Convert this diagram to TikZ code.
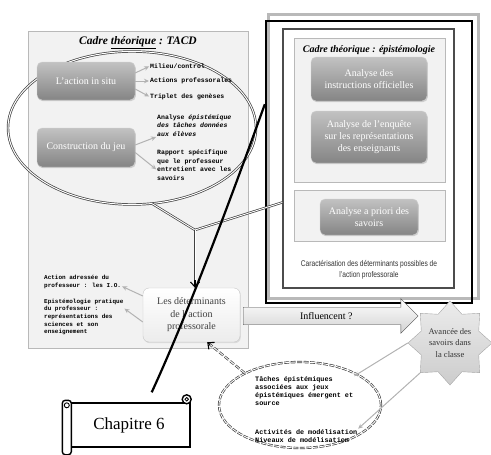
\documentclass[tikz,border=0pt]{standalone}
\usepackage{fontspec}
\setmainfont{Liberation Serif}
\newfontfamily\comicfont{Liberation Mono}
\newfontfamily\narrowfont[FakeStretch=0.8]{Liberation Sans}
\usetikzlibrary{arrows.meta,positioning,shapes.geometric,shapes.arrows,shadows}

\begin{document}
\begin{tikzpicture}[x=1pt, y=-1pt,
      panel/.style={draw=gray!55, fill=gray!10},
      gbox/.style={rectangle, rounded corners=5pt, draw=gray!35, top color=black!24, bottom color=black!48,
        text=white, align=center, font=\fontsize{10}{12}\selectfont,
        drop shadow={opacity=0.3, shadow xshift=0.8pt, shadow yshift=-1.2pt}},
      note/.style={font=\comicfont\bfseries\fontsize{6.5}{8.5}\selectfont, align=left, inner sep=0pt, anchor=west},
      ttl/.style={font=\bfseries\itshape\fontsize{11.5}{13}\selectfont},
      garr/.style={-{Stealth[length=5pt,width=4.5pt]}, draw=gray!60, line width=1pt, shorten >=1pt},
      dline/.style={draw=black!75, double=white, double distance=0.9pt, line width=0.7pt},
      tip/.style={-{Straight Barb[length=5pt,width=9pt]}, line width=1.1pt}
    ]
      \useasboundingbox (0,0) rectangle (491,455);
      % cadre TACD
      \node[panel, minimum width=220pt, minimum height=317pt] (tacdpanel) at (138,189.5) {};
      \node[ttl] (tacdtitle) at (138,43) {Cadre \underline{théorique} : TACD};
      \node[ellipse, dline, double distance=1pt, minimum width=248pt, minimum height=153pt] (tacd) at (132,128) {};
      \node[gbox, minimum width=98pt, minimum height=38pt] (insitu) at (86,81) {L’action in situ};
      \node[gbox, minimum width=98pt, minimum height=39pt] (jeu) at (86,147.5) {Construction du jeu};
      \node[note] (milieu) at (150,66) {Milieu/control};
      \node[note] (actprof) at (150,81) {Actions professorales};
      \node[note] (triplet) at (150,97) {Triplet des genèses};
      \node[note] (anaepi) at (157,125.5) {Analyse {\itshape épistémique}\\{\itshape des tâches données}\\{\itshape aux élèves}};
      \node[note] (rapport) at (157,165) {Rapport spécifique\\que le professeur\\entretient avec les\\savoirs};
      \draw[garr] ([yshift=8pt]insitu.east) -- (milieu.west);
      \draw[garr] (insitu.east) -- (actprof.west);
      \draw[garr] ([yshift=-8pt]insitu.east) -- (triplet.west);
      \draw[garr] ([yshift=2.5pt]jeu.east) -- (anaepi.south west);
      \draw[garr] ([yshift=-5pt]jeu.east) -- ([yshift=-5pt]rapport.west);
      % les déterminants
      \node[rectangle, rounded corners=6pt, draw=gray!45, top color=white, bottom color=gray!15,
        text=black!75, align=center, font=\fontsize{10}{12.5}\selectfont,
        minimum width=97pt, minimum height=54pt,
        drop shadow={opacity=0.2, shadow xshift=0.8pt, shadow yshift=-1.2pt}] (det) at (191.5,315)
        {Les déterminants\\de l’action\\professorale};
      \node[note, font=\comicfont\bfseries\fontsize{6}{7.6}\selectfont] (actadr) at (44,282)
        {Action adressée du\\professeur : les I.O.};
      \node[note, font=\comicfont\bfseries\fontsize{6}{7.6}\selectfont] (epist) at (44,317)
        {Epistémologie pratique\\du professeur :\\représentations des\\sciences et son\\enseignement};
      \draw[garr] ([yshift=19pt]det.west) -- ([yshift=-4pt]actadr.east);
      \draw[garr] ([yshift=-7pt]det.west) -- ([yshift=9pt]epist.east);
      % cadre épistémologie
      \node[draw=gray!55, line width=3pt, minimum width=210pt, minimum height=284pt] (epishadow) at (373,156) {};
      \node[draw=black, line width=2.4pt, minimum width=206pt, minimum height=282pt] (epi) at (369,162) {};
      \node[draw=black!70, line width=1.5pt, fill=white, minimum width=171pt, minimum height=259pt] (inner) at (368.5,158.5) {};
      \node[panel, minimum width=151pt, minimum height=144pt] (epipanel) at (369.5,110) {};
      \node[ttl, font=\bfseries\itshape\fontsize{10}{12}\selectfont] (epititle) at (369,50) {Cadre théorique : épistémologie};
      \node[gbox, minimum width=116pt, minimum height=44pt] (io) at (369,79) {Analyse des\\instructions officielles};
      \node[gbox, minimum width=116pt, minimum height=52pt] (enquete) at (369,137)
        {Analyse de l’enquête\\sur les représentations\\des enseignants};
      \node[panel, minimum width=151pt, minimum height=51pt] (prioripanel) at (369.5,215.5) {};
      \node[gbox, minimum width=98pt, minimum height=36pt] (apriori) at (369,217) {Analyse a priori des\\savoirs};
      \node[font=\narrowfont\fontsize{8.3}{10.5}\selectfont, align=center, text=black!80] (caract) at (369,270)
        {Caractérisation des déterminants possibles de\\l’action professorale};
      % liaisons
      \coordinate (junc) at (195,230);
      \draw[dline] (tacd.-75) -- (junc);
      \draw[dline] (inner.207) -- (junc);
      \draw[dline, shorten >=3pt] (junc) -- (junc |- det.north);
      \draw[tip, shorten <=50pt] (junc) -- (junc |- det.north);
      % influence
      \node[single arrow, draw=black!70, top color=white, bottom color=gray!35,
        single arrow head extend=8.5pt, minimum height=175pt, inner ysep=5pt, anchor=tail,
        font=\fontsize{10}{12}\selectfont] (infl) at (243,316) {Influencent ?};
      \node[star, star points=8, star point ratio=1.35, draw=gray!70, top color=gray!15, bottom color=gray!40,
        minimum size=84pt, inner sep=0pt] (star) at (450,343) {};
      \node[align=center, font=\fontsize{8.5}{11.5}\selectfont, text=black!80] (avancee) at (450,343)
        {Avancée des\\savoirs dans\\la classe};
      % jeux épistémiques
      \node[ellipse, dline, dash pattern=on 5pt off 1.5pt, minimum width=162pt, minimum height=86pt] (dell) at (300,405) {};
      \node[note, font=\comicfont\bfseries\fontsize{6.8}{7.8}\selectfont] (taches) at (255,391)
        {Tâches épistémiques\\associées aux jeux\\épistémiques émergent et\\source};
      \node[note, font=\comicfont\bfseries\fontsize{6.8}{7.8}\selectfont] (activ) at (255,436)
        {Activités de modélisation\\Niveaux de modélisation};
      \draw[garr] (star.180) -- (taches.north east);
      \draw[garr] (star.225) -- (activ.north east);
      \draw[dline, dash pattern=on 5pt off 2pt, shorten >=3pt] (dell.150) -- (det.-60);
      \draw[tip, shorten <=45pt] (dell.150) -- (det.-60);
      % chapitre 6
      \node[draw=black, line width=1.4pt, fill=white, minimum width=122pt, minimum height=44pt,
        font=\fontsize{17}{20}\selectfont] (chap) at (129,425) {Chapitre 6};
      \draw[line width=1.4pt, fill=white, rounded corners=3pt]
        ([xshift=-5pt,yshift=2pt]chap.north west) rectangle ([xshift=4pt,yshift=-7pt]chap.south west);
      \draw[line width=0.9pt] ([xshift=-0.5pt,yshift=-3pt]chap.north west) circle (2.5pt);
      \draw[line width=1.4pt, fill=white] ([xshift=-4pt,yshift=3pt]chap.north east) circle (4.5pt);
      \draw[line width=0.8pt] ([xshift=-4pt,yshift=3pt]chap.north east) circle (1.8pt);
      \draw[line width=2.2pt] ([yshift=10pt]chap.45) .. controls (185,320) and (225,215) .. (epi.151);
    \end{tikzpicture}
\end{document}
